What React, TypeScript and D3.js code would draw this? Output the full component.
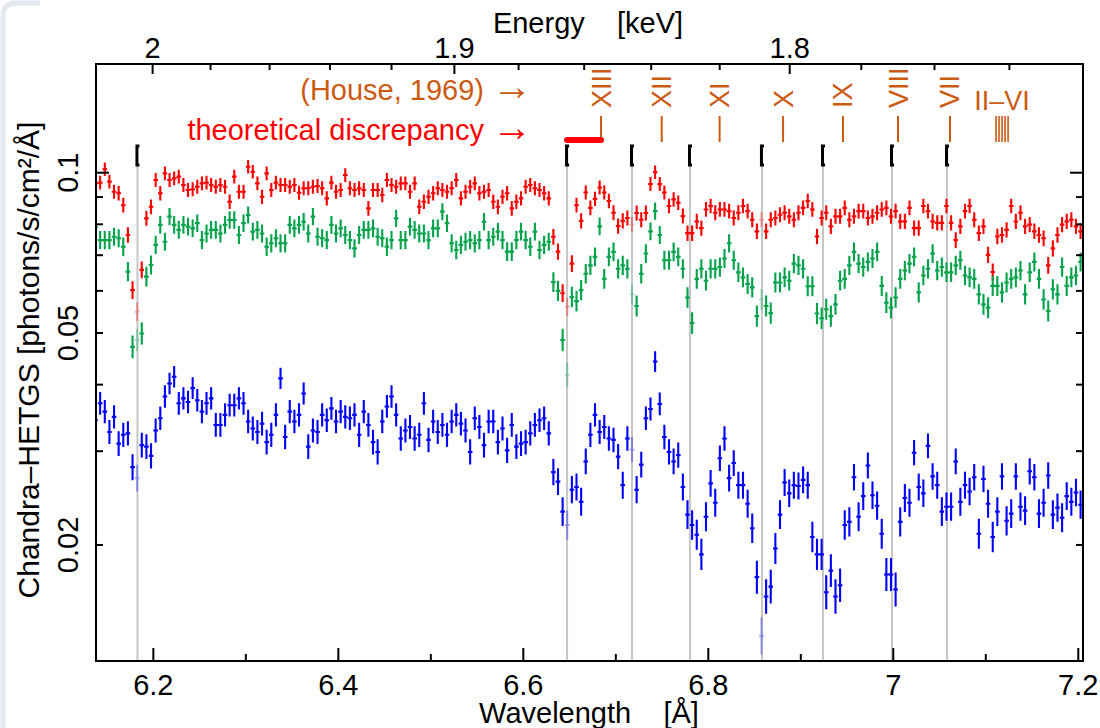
import React from 'react';
import * as d3 from 'd3';

// ---------- data ----------
// first bin centre (Å) and bin width; spectra are binned at 0.005 Å
const LAMBDA_START = 6.1375;
const BIN = 0.005;

// upper (red) spectrum [photons/s/cm^2/Å]
const redFlux = [
  0.0955,
  0.0958, 0.1015, 0.0962, 0.0921, 0.0915, 0.0869, 0.0764, 0.0602, 0.0548, 0.0657,
  0.0821, 0.0863, 0.0969, 0.0915, 0.0997, 0.0969, 0.0976, 0.0983, 0.0948, 0.0928,
  0.0931, 0.0941, 0.0955, 0.0958, 0.0948, 0.0941, 0.0948, 0.0941, 0.0882, 0.0983,
  0.0921, 0.0921, 0.1026, 0.1004, 0.0955, 0.0901, 0.0997, 0.0928, 0.0958, 0.0948,
  0.0948, 0.0941, 0.0948, 0.0917, 0.0935, 0.0935, 0.0941, 0.0944, 0.0935, 0.0895,
  0.0958, 0.0921, 0.0928, 0.0990, 0.0935, 0.0928, 0.0935, 0.0928, 0.0857, 0.0928,
  0.0928, 0.0908, 0.0969, 0.0948, 0.0941, 0.0955, 0.0955, 0.0921, 0.0955, 0.0863,
  0.0882, 0.0901, 0.0915, 0.0935, 0.0928, 0.0921, 0.0935, 0.0969, 0.0895, 0.0921,
  0.0941, 0.0955, 0.0915, 0.0921, 0.0928, 0.0882, 0.0863, 0.0901, 0.0915, 0.0857,
  0.0882, 0.0895, 0.0941, 0.0948, 0.0935, 0.0928, 0.0915, 0.0895, 0.0758, 0.0711,
  0.0594, 0.0560, 0.0675, 0.0869, 0.0812, 0.0918, 0.0859, 0.0893, 0.0938, 0.0918,
  0.0885, 0.0841, 0.0794, 0.0812, 0.0822, 0.0799, 0.0840, 0.0816, 0.0840, 0.0952,
  0.1002, 0.0952, 0.0918, 0.0866, 0.0891, 0.0878, 0.0829, 0.0770, 0.0770, 0.0810,
  0.0787, 0.0853, 0.0866, 0.0841, 0.0853, 0.0853, 0.0847, 0.0822, 0.0841, 0.0866,
  0.0847, 0.0816, 0.0776, 0.0816, 0.0776, 0.0816, 0.0822, 0.0834, 0.0841, 0.0828,
  0.0816, 0.0841, 0.0859, 0.0885, 0.0853, 0.0759, 0.0822, 0.0841, 0.0793, 0.0828,
  0.0828, 0.0859, 0.0816, 0.0828, 0.0847, 0.0847, 0.0822, 0.0828, 0.0841, 0.0853,
  0.0859, 0.0828, 0.0847, 0.0810, 0.0810, 0.0859, 0.0787, 0.0787, 0.0866, 0.0847,
  0.0810, 0.0805, 0.0805, 0.0866, 0.0805, 0.0747, 0.0793, 0.0847, 0.0866, 0.0816,
  0.0770, 0.0793, 0.0701, 0.0651, 0.0759, 0.0764, 0.0781, 0.0866, 0.0810, 0.0841,
  0.0793, 0.0799, 0.0776, 0.0764, 0.0753, 0.0670, 0.0721, 0.0764, 0.0799, 0.0810,
  0.0816, 0.0793, 0.0776, 0.0747,
];

// middle (green) spectrum
const greenFlux = [
  0.0790,
  0.0747, 0.0747, 0.0747, 0.0758, 0.0753, 0.0726, 0.0652, 0.0471, 0.0485, 0.0499,
  0.0638, 0.0671, 0.0732, 0.0798, 0.0742, 0.0827, 0.0798, 0.0781, 0.0798, 0.0792,
  0.0786, 0.0804, 0.0747, 0.0769, 0.0781, 0.0781, 0.0769, 0.0798, 0.0815, 0.0815,
  0.0764, 0.0804, 0.0833, 0.0775, 0.0781, 0.0769, 0.0726, 0.0737, 0.0753, 0.0737,
  0.0737, 0.0798, 0.0786, 0.0798, 0.0809, 0.0769, 0.0827, 0.0758, 0.0753, 0.0747,
  0.0798, 0.0769, 0.0786, 0.0764, 0.0747, 0.0721, 0.0764, 0.0781, 0.0781, 0.0786,
  0.0758, 0.0753, 0.0726, 0.0747, 0.0821, 0.0747, 0.0747, 0.0792, 0.0781, 0.0769,
  0.0769, 0.0747, 0.0786, 0.0786, 0.0845, 0.0804, 0.0737, 0.0716, 0.0732, 0.0742,
  0.0747, 0.0737, 0.0747, 0.0809, 0.0747, 0.0758, 0.0775, 0.0747, 0.0711, 0.0711,
  0.0747, 0.0775, 0.0747, 0.0726, 0.0775, 0.0716, 0.0732, 0.0742, 0.0623, 0.0600,
  0.0485, 0.0417, 0.0584, 0.0574, 0.0602, 0.0646, 0.0670, 0.0695, 0.0793, 0.0632,
  0.0695, 0.0710, 0.0660, 0.0670, 0.0660, 0.0591, 0.0562, 0.0646, 0.0705, 0.0776,
  0.0847, 0.0764, 0.0685, 0.0685, 0.0710, 0.0695, 0.0660, 0.0583, 0.0522, 0.0632,
  0.0660, 0.0627, 0.0660, 0.0660, 0.0665, 0.0690, 0.0737, 0.0685, 0.0650, 0.0636,
  0.0618, 0.0609, 0.0538, 0.0578, 0.0562, 0.0545, 0.0622, 0.0622, 0.0636, 0.0627,
  0.0675, 0.0670, 0.0660, 0.0612, 0.0612, 0.0544, 0.0533, 0.0554, 0.0538, 0.0566,
  0.0627, 0.0632, 0.0670, 0.0710, 0.0675, 0.0665, 0.0680, 0.0690, 0.0710, 0.0613,
  0.0570, 0.0558, 0.0583, 0.0632, 0.0655, 0.0675, 0.0695, 0.0596, 0.0641, 0.0660,
  0.0705, 0.0655, 0.0665, 0.0650, 0.0650, 0.0670, 0.0685, 0.0641, 0.0636, 0.0632,
  0.0591, 0.0566, 0.0558, 0.0613, 0.0613, 0.0596, 0.0622, 0.0632, 0.0636, 0.0655,
  0.0591, 0.0650, 0.0680, 0.0632, 0.0578, 0.0550, 0.0604, 0.0591, 0.0665, 0.0613,
  0.0636, 0.0641, 0.0680, 0.0575,
];

// lower (blue) spectrum
const blueFlux = [
  0.0343,
  0.0369, 0.0356, 0.0326, 0.0348, 0.0310, 0.0322, 0.0324, 0.0280, 0.0267, 0.0308,
  0.0306, 0.0294, 0.0328, 0.0346, 0.0380, 0.0402, 0.0414, 0.0369, 0.0377, 0.0371,
  0.0394, 0.0374, 0.0356, 0.0369, 0.0377, 0.0336, 0.0336, 0.0351, 0.0366, 0.0366,
  0.0377, 0.0369, 0.0341, 0.0331, 0.0326, 0.0338, 0.0312, 0.0322, 0.0351, 0.0411,
  0.0319, 0.0356, 0.0341, 0.0351, 0.0385, 0.0306, 0.0328, 0.0326, 0.0351, 0.0343,
  0.0361, 0.0341, 0.0356, 0.0348, 0.0346, 0.0351, 0.0322, 0.0356, 0.0336, 0.0312,
  0.0299, 0.0341, 0.0364, 0.0380, 0.0351, 0.0317, 0.0328, 0.0333, 0.0317, 0.0322,
  0.0369, 0.0315, 0.0341, 0.0326, 0.0336, 0.0322, 0.0341, 0.0351, 0.0338, 0.0328,
  0.0299, 0.0346, 0.0333, 0.0308, 0.0341, 0.0341, 0.0312, 0.0331, 0.0301, 0.0336,
  0.0306, 0.0310, 0.0312, 0.0324, 0.0336, 0.0343, 0.0346, 0.0324, 0.0274, 0.0263,
  0.0231, 0.0218, 0.0254, 0.0257, 0.0241, 0.0287, 0.0322, 0.0351, 0.0326, 0.0333,
  0.0317, 0.0315, 0.0293, 0.0259, 0.0317, 0.0302, 0.0254, 0.0283, 0.0346, 0.0360,
  0.0442, 0.0368, 0.0319, 0.0299, 0.0287, 0.0295, 0.0257, 0.0228, 0.0218, 0.0209,
  0.0192, 0.0226, 0.0261, 0.0240, 0.0291, 0.0317, 0.0267, 0.0285, 0.0259, 0.0259,
  0.0239, 0.0215, 0.0174, 0.0135, 0.0160, 0.0167, 0.0197, 0.0228, 0.0262, 0.0250,
  0.0259, 0.0258, 0.0265, 0.0259, 0.0207, 0.0192, 0.0192, 0.0163, 0.0179, 0.0160,
  0.0168, 0.0218, 0.0221, 0.0268, 0.0226, 0.0247, 0.0282, 0.0248, 0.0237, 0.0210,
  0.0176, 0.0176, 0.0165, 0.0221, 0.0245, 0.0240, 0.0298, 0.0257, 0.0250, 0.0307,
  0.0269, 0.0259, 0.0231, 0.0236, 0.0236, 0.0287, 0.0241, 0.0259, 0.0252, 0.0268,
  0.0210, 0.0266, 0.0239, 0.0207, 0.0231, 0.0269, 0.0222, 0.0229, 0.0269, 0.0236,
  0.0232, 0.0275, 0.0268, 0.0229, 0.0240, 0.0270, 0.0228, 0.0235, 0.0225, 0.0247,
  0.0241, 0.0251, 0.0238, 0.0280,
];

// bins straddling an edge, drawn faint (indices into the arrays above)
const faintBins = [9, 102, 116, 144];

// Si K-edge positions (grey lines with black markers), Å
const edgeLines = [6.1828, 6.6473, 6.7175, 6.7802, 6.8580, 6.9240, 6.9986, 7.0581];
// House (1969) positions, Å, and labels
const houseLines = [6.6840, 6.7496, 6.8122, 6.8808, 6.9456, 7.0051, 7.0613];
const houseLabels = ['XIII', 'XII', 'XI', 'X', 'IX', 'VIII', 'VII'];
const lowIonLines = [7.1111, 7.1143, 7.1176, 7.1208, 7.1241];

// axes
const xMajorTicks = [6.2, 6.4, 6.6, 6.8, 7.0, 7.2];
const xMajorLabels = ['6.2', '6.4', '6.6', '6.8', '7', '7.2'];
const xMinorTicks = [6.3, 6.5, 6.7, 6.9, 7.1];
const eMajorTicks = [2.0, 1.9, 1.8];
const eMajorLabels = ['2', '1.9', '1.8'];
const eMinorTicks = [1.98, 1.96, 1.94, 1.92, 1.88, 1.86, 1.84, 1.82, 1.78, 1.76, 1.74];
const yLabelTicks = [0.1, 0.05, 0.02];
const yLabelTexts = ['0.1', '0.05', '0.02'];
const yMinorTicks = [0.02, 0.03, 0.04, 0.05, 0.06, 0.07, 0.08, 0.09];
const yMajorTicks = [0.1];

const HC = 12.3984; // keV·Å

const FONT = '"Liberation Sans", Arial, Helvetica, sans-serif';
const ORANGE = '#cc5a12';
const RED = '#ff0000';
const GREEN = '#00a34a';
const BLUE = '#0000ff';

const series = [
  { flux: redFlux, color: RED, errBase: 0.0135, errRef: 0.09 },
  { flux: greenFlux, color: GREEN, errBase: 0.017, errRef: 0.075 },
  { flux: blueFlux, color: BLUE, errBase: 0.0225, errRef: 0.033 },
];

export default function App() {
  const L = 96, R = 1083, T = 64, B = 661;
  const x = d3.scaleLinear().domain([6.138, 7.2051]).range([L, R]);
  const y = d3.scaleLog().domain([0.01211, 0.16]).range([B, T]);
  const halfBinPx = x(LAMBDA_START + BIN / 2) - x(LAMBDA_START);

  const seriesPaths = series.map((s) => {
    let normal = '';
    let faint = '';
    s.flux.forEach((v, i) => {
      const lam = LAMBDA_START + i * BIN;
      const cx = x(lam);
      const e = s.errBase * Math.sqrt(s.errRef / v);
      const f = Math.pow(10, e);
      const seg = `M${cx.toFixed(2)},${y(v * f).toFixed(2)}V${y(v / f).toFixed(2)}M${(cx - halfBinPx).toFixed(2)},${y(v).toFixed(2)}H${(cx + halfBinPx).toFixed(2)}`;
      if (faintBins.includes(i)) faint += seg;
      else normal += seg;
    });
    return { normal, faint, color: s.color };
  });

  const textStyle = { fontFamily: FONT, whiteSpace: 'pre' } as React.CSSProperties;

  return (
    <svg
      width={1100}
      height={728}
      viewBox="0 0 1100 728"
      style={{ position: 'absolute', left: 0, top: 0, background: '#fff' }}
    >
      <defs>
        <clipPath id="plotClip">
          <rect x={L} y={T} width={R - L} height={B - T} />
        </clipPath>
      </defs>
      <rect x={0} y={0} width={1100} height={728} fill="#fff" />
      {/* faint window border at the left */}
      <path d="M3,728 V16 Q3,3 16,3 H40" fill="none" stroke="#e3e8f1" strokeWidth={5} />

      {/* edge lines */}
      {edgeLines.map((l, i) => (
        <line key={'g' + i} x1={x(l)} x2={x(l)} y1={165} y2={B} stroke="#c6c6c6" strokeWidth={2} />
      ))}
      {edgeLines.map((l, i) => (
        <path
          key={'m' + i}
          d={`M${x(l) + 2},146 H${x(l) - 0.5} V165 H${x(l) + 2}`}
          fill="none"
          stroke="#000"
          strokeWidth={3}
        />
      ))}

      {/* data */}
      <g clipPath="url(#plotClip)">
        {seriesPaths.map((p, i) => (
          <g key={'s' + i}>
            <path d={p.normal} stroke={p.color} strokeWidth={2.1} fill="none" />
            <path d={p.faint} stroke={p.color} strokeWidth={2} fill="none" opacity={0.35} />
          </g>
        ))}
      </g>

      {/* frame */}
      <rect x={L} y={T} width={R - L} height={B - T} fill="none" stroke="#000" strokeWidth={2} />

      {/* bottom axis ticks */}
      {xMajorTicks.map((t, i) => (
        <line key={'xM' + i} x1={x(t)} x2={x(t)} y1={B} y2={B - 13} stroke="#000" strokeWidth={2} />
      ))}
      {xMinorTicks.map((t, i) => (
        <line key={'xm' + i} x1={x(t)} x2={x(t)} y1={B} y2={B - 7} stroke="#000" strokeWidth={2} />
      ))}
      {xMajorTicks.map((t, i) => (
        <text key={'xl' + i} x={x(t)} y={695} fontSize={29} textAnchor="middle" style={textStyle}>
          {xMajorLabels[i]}
        </text>
      ))}
      <text x={589} y={723} fontSize={29} textAnchor="middle" style={textStyle}>
        {'Wavelength    [Å]'}
      </text>

      {/* top energy axis */}
      {eMajorTicks.map((t, i) => (
        <line key={'eM' + i} x1={x(HC / t)} x2={x(HC / t)} y1={T} y2={T + 10} stroke="#000" strokeWidth={2} />
      ))}
      {eMinorTicks.map((t, i) => (
        <line key={'em' + i} x1={x(HC / t)} x2={x(HC / t)} y1={T} y2={T + 6} stroke="#000" strokeWidth={2} />
      ))}
      {eMajorTicks.map((t, i) => (
        <text key={'el' + i} x={x(HC / t)} y={58} fontSize={29} textAnchor="middle" style={textStyle}>
          {eMajorLabels[i]}
        </text>
      ))}
      <text x={588} y={33} fontSize={29} textAnchor="middle" style={textStyle}>
        {'Energy    [keV]'}
      </text>

      {/* y axis ticks (left & right) */}
      {yMajorTicks.map((t, i) => (
        <g key={'yM' + i}>
          <line x1={L} x2={L + 13} y1={y(t)} y2={y(t)} stroke="#000" strokeWidth={2} />
          <line x1={R} x2={R - 13} y1={y(t)} y2={y(t)} stroke="#000" strokeWidth={2} />
        </g>
      ))}
      {yMinorTicks.map((t, i) => (
        <g key={'ym' + i}>
          <line x1={L} x2={L + 7} y1={y(t)} y2={y(t)} stroke="#000" strokeWidth={2} />
          <line x1={R} x2={R - 7} y1={y(t)} y2={y(t)} stroke="#000" strokeWidth={2} />
        </g>
      ))}
      {yLabelTicks.map((t, i) => (
        <text
          key={'yl' + i}
          transform={`translate(78,${y(t)}) rotate(-90)`}
          fontSize={29}
          textAnchor="middle"
          style={textStyle}
        >
          {yLabelTexts[i]}
        </text>
      ))}
      <text transform="translate(39,360) rotate(-90)" fontSize={30} textAnchor="middle" style={textStyle}>
        {'Chandra–HETGS [photons/s/cm²/Å]'}
      </text>

      {/* annotations */}
      <text x={532} y={100} fontSize={29} textAnchor="end" fill={ORANGE} style={textStyle}>
        {'(House, 1969)'}
        <tspan fontSize={40} dx={8}>→</tspan>
      </text>
      <text x={532} y={140} fontSize={29} textAnchor="end" fill={RED} style={textStyle}>
        {'theoretical discrepancy'}
        <tspan fontSize={40} dx={8} dy={1}>→</tspan>
      </text>
      {houseLines.map((l, i) => (
        <g key={'h' + i}>
          <line x1={x(l)} x2={x(l)} y1={116} y2={i === 0 ? 140 : 142} stroke={ORANGE} strokeWidth={2} />
          <text
            transform={`translate(${x(l) + 9.5},108) rotate(-90)`}
            fontSize={27}
            textAnchor="start"
            fill={ORANGE}
            style={textStyle}
          >
            {houseLabels[i]}
          </text>
        </g>
      ))}
      {lowIonLines.map((l, i) => (
        <line key={'li' + i} x1={x(l)} x2={x(l)} y1={116} y2={142} stroke={ORANGE} strokeWidth={1.6} />
      ))}
      <text x={x(lowIonLines[2])} y={110} fontSize={27} textAnchor="middle" fill={ORANGE} style={textStyle}>
        {'II–VI'}
      </text>
      <line
        x1={x(edgeLines[1])}
        x2={x(houseLines[0])}
        y1={140}
        y2={140}
        stroke={RED}
        strokeWidth={6}
        strokeLinecap="round"
      />
    </svg>
  );
}
